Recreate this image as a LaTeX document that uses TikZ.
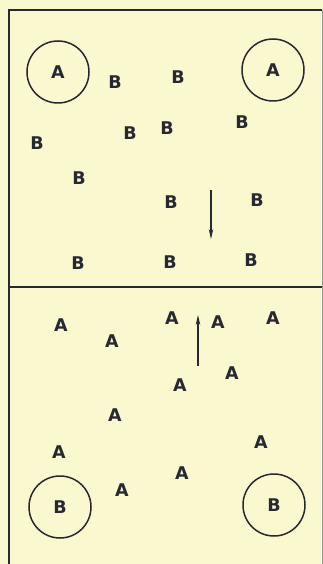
\documentclass[tikz,border=0pt]{standalone}
\usepackage{fontspec}
\setsansfont{DejaVu Sans}
\usetikzlibrary{arrows.meta}
\definecolor{PaperCream}{RGB}{250,248,206}
\definecolor{InkGray}{RGB}{40,40,50}
\definecolor{EdgeGray}{RGB}{150,150,150}

\begin{document}
\begin{tikzpicture}[x=1pt,y=-1pt,
  ion/.style={font=\sffamily\bfseries\fontsize{17.5}{17.5}\selectfont,text=InkGray,inner sep=0pt},
  ring/.style={draw=InkGray,line width=1.5pt,circle,minimum size=62pt,inner sep=0pt,
               font=\sffamily\bfseries\fontsize{17.5}{17.5}\selectfont,text=InkGray},
  flow/.style={-{Stealth[length=10pt,width=4.5pt]},draw=InkGray,line width=1.3pt},
  frame/.style={draw=InkGray,line width=2pt},
]
\fill[PaperCream] (0,0) rectangle (323,564);
\useasboundingbox (0,0) rectangle (323,564);
% box and divider
\draw[frame] (9,564) -- (9,10) -- (322,10);
\draw[frame] (9,287) -- (323,287);
\draw[draw=EdgeGray,line width=1pt] (322,10) -- (322,564);
% upper half: two A electrodes, B ions
\node[ring] (ringA1) at (58,72)  {A};
\node[ring] (ringA2) at (273,70) {A};
\node[ion] (b1)  at (115,82)  {B};
\node[ion] (b2)  at (178,77)  {B};
\node[ion] (b3)  at (242,122) {B};
\node[ion] (b4)  at (130,133) {B};
\node[ion] (b5)  at (167,128) {B};
\node[ion] (b6)  at (37,143)  {B};
\node[ion] (b7)  at (79,178)  {B};
\node[ion] (b8)  at (171,202) {B};
\node[ion] (b9)  at (257,200) {B};
\node[ion] (b10) at (78,263)  {B};
\node[ion] (b11) at (170,262) {B};
\node[ion] (b12) at (251,260) {B};
\coordinate (downTop) at (211,190);
\coordinate (downEnd) at (211,239);
\draw[flow] (downTop) -- (downEnd);
% lower half: A ions, two B electrodes
\node[ion] (a1)  at (61,325)  {A};
\node[ion] (a2)  at (112,341) {A};
\node[ion] (a3)  at (172,318) {A};
\node[ion] (a4)  at (218,322) {A};
\node[ion] (a5)  at (273,318) {A};
\node[ion] (a6)  at (232,373) {A};
\node[ion] (a7)  at (180,385) {A};
\node[ion] (a8)  at (115,415) {A};
\node[ion] (a9)  at (261,442) {A};
\node[ion] (a10) at (59,452)  {A};
\node[ion] (a11) at (182,473) {A};
\node[ion] (a12) at (122,490) {A};
\node[ring] (ringB1) at (60,507)  {B};
\node[ring] (ringB2) at (274,505) {B};
\coordinate (upFoot) at (198,366);
\coordinate (upTip)  at (198,315);
\draw[flow] (upFoot) -- (upTip);
\end{tikzpicture}
\end{document}
